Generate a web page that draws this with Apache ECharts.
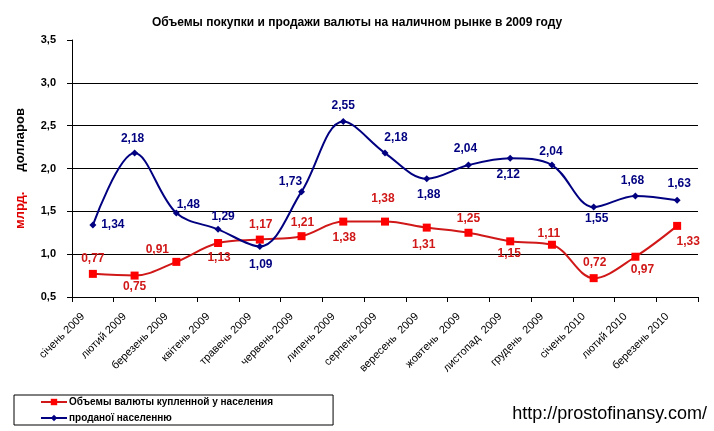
<!DOCTYPE html>
<html><head><meta charset="utf-8">
<script src="https://cdn.jsdelivr.net/npm/echarts@6/dist/echarts.min.js"></script>
<style>html,body{margin:0;padding:0;background:#fff}#c{width:714px;height:431px}</style>
</head><body><div id="c"></div>
<script>
const title = 'Объемы покупки и продажи валюты на наличном рынке в 2009 году';
const categories = ['січень 2009','лютий 2009','березень 2009','квітень 2009','травень 2009','червень 2009','липень 2009','серпень 2009','вересень  2009','жовтень  2009','листопад  2009','грудень  2009','січень 2010','лютий 2010','березень 2010'];
const boughtName = 'Объемы валюты купленной у населения';
const soldName = 'проданої населенню';
const bought = [0.77,0.75,0.91,1.13,1.17,1.21,1.38,1.38,1.31,1.25,1.15,1.11,0.72,0.97,1.33];
const sold = [1.34,2.18,1.48,1.29,1.09,1.73,2.55,2.18,1.88,2.04,2.12,2.04,1.55,1.68,1.63];
const yMin = 0.5, yMax = 3.5, yStep = 0.5;

// label placement (offset of label centre from the point), styling only
const boughtLabelOffsets = [[0,-15],[0,11],[-19,-12],[1,15],[1,-15],[1,-13],[1,16],[-2,-23],[-3,17],[0,-14],[-1,12],[-3,-11],[1,-15],[7,13],[11,16]];
const soldLabelOffsets = [[20,0],[-2,-14],[12,-8],[5,-13],[1,18],[-11,-10],[0,-16],[11,-15],[2,16],[-3,-16],[-2,16],[-1,-13],[3,12],[-3,-15],[2,-17]];

const fmt = v => v.toFixed(2).replace('.', ',');
const mk = (vals, offs) => vals.map((v,i) => ({value: v, label: {offset: offs[i]}}));
const FF = 'Arial, "Liberation Sans", sans-serif';
const FN = '"Liberation Sans Narrow", "Arial Narrow", Arial, sans-serif';

const chart = echarts.init(document.getElementById('c'), null, {renderer: 'canvas'});
chart.setOption({
  animation: false,
  backgroundColor: '#fff',
  textStyle: {fontFamily: FF},
  title: {text: title, left: 'center', top: 12,
    textStyle: {fontSize: 12, fontWeight: 'bold', color: '#000', fontFamily: FF}},
  grid: {left: 72, right: 16, top: 40, bottom: 134, containLabel: false},
  legend: {
    orient: 'vertical', left: 14, top: 395, width: 223,
    padding: [2, 60, 2, 26], itemGap: 6, itemWidth: 26, itemHeight: 8,
    borderColor: '#000', borderWidth: 1,
    textStyle: {fontSize: 10, fontWeight: 'bold', color: '#000', padding: [0,0,0,-3]},
    data: [boughtName, soldName]
  },
  xAxis: {
    type: 'category', data: categories, boundaryGap: true,
    axisLine: {lineStyle: {color: '#000', width: 1}},
    axisTick: {show: true, interval: 0, length: 5, lineStyle: {color: '#000'}},
    axisLabel: {interval: 0, rotate: 45, fontSize: 11, color: '#000', margin: 8, padding: [0, 14, 0, 0]}
  },
  yAxis: {
    type: 'value', min: yMin, max: yMax, interval: yStep,
    name: '{r|млрд.}      {b|долларов}', nameLocation: 'middle', nameRotate: 90, nameGap: 45,
    nameTextStyle: {rich: {
      r: {color: '#e00000', fontWeight: 'bold', fontSize: 13},
      b: {color: '#000', fontWeight: 'bold', fontSize: 13}
    }},
    axisLine: {show: true, lineStyle: {color: '#000'}},
    axisTick: {show: true, length: 5, lineStyle: {color: '#000'}},
    axisLabel: {formatter: v => v.toFixed(1).replace('.', ','), fontSize: 11, fontWeight: 'bold', color: '#000', margin: 16, fontFamily: FN},
    splitLine: {show: true, showMaxLine: false, lineStyle: {color: '#000', width: 1}}
  },
  series: [
    {
      name: boughtName, type: 'line', smooth: 0.35,
      data: mk(bought, boughtLabelOffsets),
      symbol: 'rect', symbolSize: 8,
      itemStyle: {color: '#ff0000'},
      lineStyle: {color: '#d01818', width: 2},
      label: {show: true, position: 'inside', formatter: p => fmt(p.value),
        fontSize: 12, fontWeight: 'bold', color: '#d01818'},
      z: 3
    },
    {
      name: soldName, type: 'line', smooth: 0.35,
      data: mk(sold, soldLabelOffsets),
      symbol: 'diamond', symbolSize: 7,
      itemStyle: {color: '#000080'},
      lineStyle: {color: '#000080', width: 2},
      label: {show: true, position: 'inside', formatter: p => fmt(p.value),
        fontSize: 12, fontWeight: 'bold', color: '#000080'},
      z: 4
    }
  ],
  graphic: [{
    type: 'text', right: 7, top: 405,
    style: {text: 'http://prostofinansy.com/', fontSize: 18, fill: '#000', fontFamily: FF}
  }]
});
</script></body></html>
